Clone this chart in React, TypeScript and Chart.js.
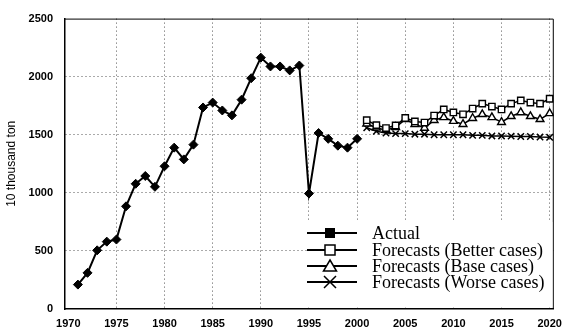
import React, { useEffect, useRef } from 'react';
import { Chart, registerables } from 'chart.js';

Chart.register(...registerables);

const actualYears = [1971, 1972, 1973, 1974, 1975, 1976, 1977, 1978, 1979, 1980, 1981, 1982, 1983, 1984, 1985, 1986, 1987, 1988, 1989, 1990, 1991, 1992, 1993, 1994, 1995, 1996, 1997, 1998, 1999, 2000];
const actualValues = [210, 311, 505, 580, 598, 884, 1078, 1145, 1052, 1229, 1389, 1288, 1415, 1735, 1777, 1709, 1667, 1802, 1987, 2164, 2088, 2088, 2054, 2096, 994, 1515, 1465, 1406, 1389, 1465];

const forecastYears = [2001, 2002, 2003, 2004, 2005, 2006, 2007, 2008, 2009, 2010, 2011, 2012, 2013, 2014, 2015, 2016, 2017, 2018, 2019, 2020];
const betterValues = [1625, 1583, 1558, 1580, 1645, 1615, 1605, 1665, 1718, 1692, 1676, 1726, 1768, 1743, 1718, 1768, 1795, 1777, 1768, 1810];
const baseValues = [1595, 1560, 1540, 1565, 1633, 1591, 1558, 1625, 1650, 1617, 1591, 1642, 1676, 1650, 1608, 1659, 1692, 1659, 1633, 1684];
const worseValues = [1560, 1530, 1515, 1510, 1510, 1505, 1505, 1500, 1500, 1500, 1500, 1495, 1495, 1490, 1490, 1488, 1485, 1485, 1480, 1478];

const xTickYears = [1970, 1975, 1980, 1985, 1990, 1995, 2000, 2005, 2010, 2015, 2020];
const yTickValues = [0, 500, 1000, 1500, 2000, 2500];

const seriesLabels = ['Actual', 'Forecasts (Better cases)', 'Forecasts (Base cases)', 'Forecasts (Worse cases)'];
const yAxisTitle = '10 thousand ton';

const toPoints = (xs: number[], ys: number[]) => xs.map((x, i) => ({ x, y: ys[i] }));

function drawMarker(ctx: CanvasRenderingContext2D, kind: string, x: number, y: number) {
  ctx.save();
  ctx.lineWidth = 1.5;
  ctx.strokeStyle = '#000';
  if (kind === 'filledSquare') {
    ctx.fillStyle = '#000';
    ctx.fillRect(x - 5, y - 5, 10, 10);
  } else if (kind === 'square') {
    ctx.fillStyle = '#fff';
    ctx.fillRect(x - 5, y - 5, 10, 10);
    ctx.strokeRect(x - 5, y - 5, 10, 10);
  } else if (kind === 'triangle') {
    ctx.fillStyle = '#fff';
    ctx.beginPath();
    ctx.moveTo(x, y - 6);
    ctx.lineTo(x + 6.5, y + 5);
    ctx.lineTo(x - 6.5, y + 5);
    ctx.closePath();
    ctx.fill();
    ctx.stroke();
  } else {
    ctx.beginPath();
    ctx.moveTo(x - 6, y - 6);
    ctx.lineTo(x + 6, y + 6);
    ctx.moveTo(x + 6, y - 6);
    ctx.lineTo(x - 6, y + 6);
    ctx.stroke();
  }
  ctx.restore();
}

const framePlugin = {
  id: 'frameAndLegend',
  afterDatasetsDraw(chart: any) {
    const { ctx, chartArea: a } = chart;
    ctx.save();
    ctx.strokeStyle = '#000';
    ctx.lineWidth = 1;
    ctx.beginPath();
    ctx.moveTo(a.left, a.top + 0.5);
    ctx.lineTo(a.right - 0.5, a.top + 0.5);
    ctx.lineTo(a.right - 0.5, a.bottom);
    ctx.stroke();

    const boxLeft = a.left + 243;
    const boxTop = a.bottom - 87;
    ctx.fillStyle = '#fff';
    ctx.fillRect(boxLeft, boxTop, a.right - 1.5 - boxLeft, a.bottom - 1.5 - boxTop);

    const rows = [76, 59, 43, 27];
    const kinds = ['filledSquare', 'square', 'triangle', 'cross'];
    const labels = chart.data.datasets.map((d: any) => d.label);
    ctx.font = '18px "Liberation Serif"';
    ctx.textBaseline = 'middle';
    ctx.textAlign = 'left';
    rows.forEach((off, i) => {
      const y = a.bottom - off;
      ctx.strokeStyle = '#000';
      ctx.lineWidth = 2;
      ctx.beginPath();
      ctx.moveTo(a.left + 242, y);
      ctx.lineTo(a.left + 292, y);
      ctx.stroke();
      drawMarker(ctx, kinds[i], a.left + 265, y);
      ctx.fillStyle = '#000';
      ctx.fillText(labels[i], a.left + 307, y + 1);
    });
    ctx.restore();
  },
};

export default function App() {
  const canvasRef = useRef<HTMLCanvasElement | null>(null);

  useEffect(() => {
    if (!canvasRef.current) return;
    const tickFont = { family: '"Liberation Sans", Arial, sans-serif', size: 11, weight: 'bold' as const };
    const chart = new Chart(canvasRef.current, {
      type: 'line',
      data: {
        datasets: [
          {
            label: seriesLabels[0],
            data: toPoints(actualYears, actualValues),
            borderColor: '#000',
            borderWidth: 2,
            pointStyle: 'rectRot',
            pointRadius: 4.5,
            pointBackgroundColor: '#000',
            pointBorderColor: '#000',
            pointBorderWidth: 1,
            tension: 0,
          },
          {
            label: seriesLabels[1],
            data: toPoints(forecastYears, betterValues),
            borderColor: '#000',
            borderWidth: 1.5,
            pointStyle: 'rect',
            pointRadius: 4.5,
            pointBackgroundColor: '#fff',
            pointBorderColor: '#000',
            pointBorderWidth: 1.4,
            tension: 0,
          },
          {
            label: seriesLabels[2],
            data: toPoints(forecastYears, baseValues),
            borderColor: '#000',
            borderWidth: 1.5,
            pointStyle: 'triangle',
            pointRadius: 4.5,
            pointBackgroundColor: '#fff',
            pointBorderColor: '#000',
            pointBorderWidth: 1.4,
            tension: 0,
          },
          {
            label: seriesLabels[3],
            data: toPoints(forecastYears, worseValues),
            borderColor: '#000',
            borderWidth: 1.5,
            pointStyle: 'crossRot',
            pointRadius: 4.5,
            pointBorderColor: '#000',
            pointBorderWidth: 1.5,
            tension: 0,
          },
        ],
      },
      options: {
        responsive: false,
        animation: false,
        devicePixelRatio: 1,
        layout: { padding: { top: 11, right: 13, left: 0, bottom: 0 } },
        plugins: {
          legend: { display: false },
          tooltip: { enabled: false },
        },
        scales: {
          x: {
            type: 'linear',
            min: 1969.66,
            max: 2020.43,
            afterBuildTicks: (scale: any) => {
              scale.ticks = xTickYears.map((v) => ({ value: v }));
            },
            afterFit: (scale: any) => {
              scale.height = 24;
            },
            ticks: {
              color: '#000',
              font: tickFont,
              padding: 8,
              maxRotation: 0,
              autoSkip: false,
              callback: (v: any) => String(v),
            },
            grid: {
              drawTicks: false,
              color: (c: any) => (c.tick && c.tick.value === 1970 ? 'rgba(0,0,0,0)' : '#555'),
              lineWidth: 1,
            },
            border: { display: true, color: '#000', width: 1.5, dash: [1, 3] },
          } as any,
          y: {
            type: 'linear',
            min: 0,
            max: 2500,
            afterBuildTicks: (scale: any) => {
              scale.ticks = yTickValues.map((v) => ({ value: v }));
            },
            afterFit: (scale: any) => {
              scale.width = 65;
            },
            ticks: {
              color: '#000',
              font: tickFont,
              padding: 12,
              callback: (v: any) => String(v),
            },
            grid: {
              drawTicks: false,
              color: (c: any) => (c.tick && (c.tick.value === 0 || c.tick.value === 2500) ? 'rgba(0,0,0,0)' : '#555'),
              lineWidth: 1,
            },
            border: { display: true, color: '#000', width: 1.5, dash: [1, 3] },
            title: {
              display: true,
              text: yAxisTitle,
              color: '#000',
              font: { family: '"Liberation Sans", Arial, sans-serif', size: 12 },
              padding: { top: 4, bottom: 0 },
            },
          } as any,
        },
      },
      plugins: [framePlugin],
    });
    return () => chart.destroy();
  }, []);

  return (
    <div style={{ position: 'absolute', left: 0, top: 0, width: 570, height: 333, background: '#fff' }}>
      <canvas ref={canvasRef} width={570} height={333} style={{ display: 'block' }} />
    </div>
  );
}
